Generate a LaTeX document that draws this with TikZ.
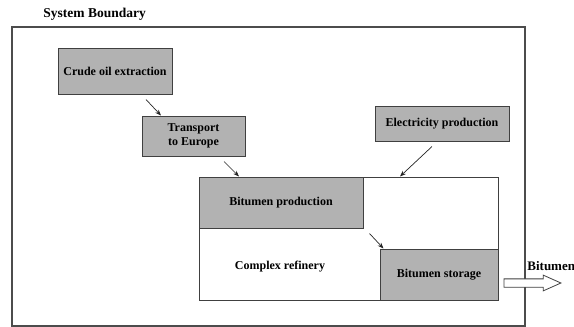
\documentclass[tikz,border=0pt]{standalone}
\usepackage{fontspec}
\setmainfont{Liberation Serif}
\usetikzlibrary{shapes.arrows,arrows.meta}

\begin{document}
\begin{tikzpicture}[x=1pt,y=-1pt,thick]
    % `process' is used for the grey boxes, `refinery' for the big white one.
    % `flow' is used for the small arrows between the boxes.
    \tikzstyle{process} = [draw=black!75,fill=black!30,line width=1pt,inner sep=0pt,align=center,font=\fontsize{12}{14.5}\selectfont\bfseries]
    \tikzstyle{refinery} = [draw=black!75,fill=white,line width=1pt,inner sep=0pt]
    \tikzstyle{label} = [inner sep=0pt,font=\fontsize{12}{14.5}\selectfont\bfseries]
    \tikzstyle{flow} = [-{Stealth[length=6pt,width=4.5pt]},line width=0.7pt,draw=black!85]
    \useasboundingbox (0,0) rectangle (574,327);
    %
    % system boundary and its title
    \node[draw=black!70,line width=1.2pt,minimum width=513pt,minimum height=299pt,inner sep=0pt] (boundary) at (268.5,176.5) {};
    \node[label,anchor=west,font=\fontsize{13.5}{16}\selectfont\bfseries] (title) at (43,14) {System Boundary};
    %
    \node[process,minimum width=114pt,minimum height=46pt] (crude) at (115,71) {Crude oil extraction};
    \node[process,minimum width=103pt,minimum height=40pt] (trans) at (193.5,136) {Transport\\to Europe};
    \node[process,minimum width=134pt,minimum height=35pt] (elec) at (442,123.5) {Electricity production};
    %
    % refinery with its two grey parts
    \node[refinery,minimum width=299pt,minimum height=123pt] (ref) at (348.5,238.5) {};
    \node[process,minimum width=164pt,minimum height=51pt] (prod) at (281,202.5) {Bitumen production};
    \node[process,minimum width=118pt,minimum height=51pt] (store) at (439,274.5) {Bitumen storage};
    \node[label] (complex) at (280,267) {Complex refinery};
    %
    % flows
    \draw[flow] ([xshift=31pt,yshift=-5pt]crude.south) -- ([xshift=-32.5pt]trans.north);
    \draw[flow] ([xshift=30.5pt,yshift=-5pt]trans.south) -- ([xshift=-42pt]prod.north);
    \draw[flow] ([xshift=-10pt,yshift=-5pt]elec.south) -- ([xshift=51.5pt]ref.north);
    \draw[flow] ([xshift=6pt,yshift=-5pt]prod.south east) -- ([xshift=4pt]store.north west);
    %
    % product leaving the system
    \node[single arrow,draw=black!75,fill=white,line width=0.8pt,inner sep=0pt,text height=7.5pt,text depth=0pt,minimum height=57pt,single arrow head extend=3.75pt,single arrow tip angle=48,anchor=west] (out) at ([xshift=5pt,yshift=-8.5pt]store.east) {};
    \node[label,anchor=west,font=\fontsize{13}{15}\selectfont\bfseries] (outlabel) at (527,266) {Bitumen};
\end{tikzpicture}
\end{document}
